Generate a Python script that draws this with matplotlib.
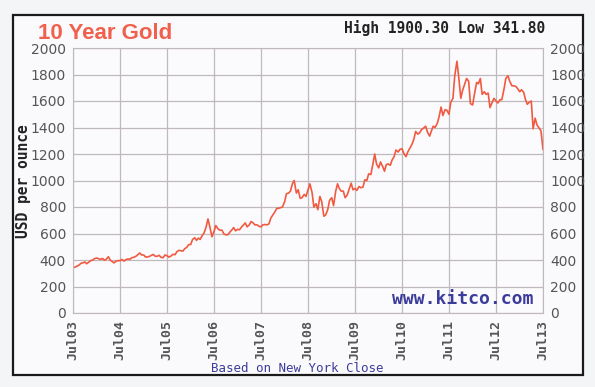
import pandas as pd
import matplotlib
matplotlib.use("Agg")
import matplotlib.pyplot as plt
import matplotlib.dates as mdates
from matplotlib.patches import Rectangle

start, end = "2003-07-01", "2013-07-01"
prices_2003 = [346, 345, 354, 360, 375, 378, 385, 372, 384, 395, 400, 410]
prices_2004 = [415, 410, 405, 412, 398, 405, 425, 400, 388, 378, 392, 395,
               395, 404, 392, 403, 408, 405, 418, 420, 428, 440, 453, 438]
prices_2005 = [438, 422, 423, 428, 435, 442, 428, 428, 435, 420, 418, 438,
               432, 422, 430, 443, 440, 462, 473, 470, 467, 485, 495, 515]
prices_2006 = [517, 555, 568, 548, 565, 555, 585, 605, 650, 710, 640, 575,
               615, 660, 635, 625, 625, 598, 590, 590, 610, 625, 645, 620]
prices_2007 = [632, 628, 650, 665, 680, 650, 665, 690, 680, 665, 665, 655,
               650, 665, 668, 665, 672, 715, 740, 760, 790, 790, 795, 800]
prices_2008 = [840, 900, 905, 920, 975, 1000, 905, 930, 865, 870, 895, 880,
               930, 975, 910, 800, 825, 780, 880, 840, 730, 740, 780, 850]
prices_2009 = [870, 810, 920, 975, 940, 920, 920, 870, 890, 930, 980, 930,
               940, 925, 955, 945, 950, 1005, 1000, 1050, 1045, 1115, 1200, 1125]
prices_2010 = [1095, 1140, 1105, 1070, 1120, 1125, 1115, 1155, 1180, 1230, 1215, 1235,
               1240, 1205, 1180, 1215, 1245, 1270, 1310, 1370, 1350, 1360, 1385, 1395]
prices_2011 = [1410, 1365, 1335, 1375, 1410, 1400, 1430, 1480, 1555, 1490, 1535, 1530,
               1500, 1590, 1620, 1790, 1900, 1780, 1620, 1680, 1730, 1770, 1750, 1580]
prices_2012 = [1570, 1650, 1740, 1730, 1770, 1650, 1670, 1650, 1660, 1550, 1590, 1620,
               1600, 1585, 1610, 1610, 1690, 1770, 1790, 1750, 1715, 1715, 1710, 1695]
prices_2013 = [1670, 1685, 1665, 1610, 1575, 1590, 1600, 1390, 1470, 1420, 1395, 1375, 1235]

prices = (prices_2003 + prices_2004 + prices_2005 + prices_2006 + prices_2007 + prices_2008
          + prices_2009 + prices_2010 + prices_2011 + prices_2012 + prices_2013)
dates = pd.date_range(start, end, freq="SMS")

y_ticks = list(range(0, 2001, 200))
x_ticks = pd.date_range(start, end, freq="12MS")

GRID = "#bfb8bc"
LINE = "#f25a40"
NAVY = "#3c3c9c"
GREY = "#555555"

fig = plt.figure(figsize=(5.95, 3.87), dpi=100, facecolor="#f4f5f7")
fig.patches.append(Rectangle((13 / 595, 1 - 375 / 387), 570 / 595, 360 / 387,
                             transform=fig.transFigure, facecolor="#fafafc",
                             edgecolor="#1a1a1a", linewidth=1.6, zorder=-5))

ax = fig.add_axes([73 / 595, 1 - 313 / 387, 470 / 595, 265 / 387])
ax.set_facecolor("#fbfbfd")
ax.plot(dates, prices, color=LINE, linewidth=1.2)

ax.set_xlim(pd.Timestamp(start), pd.Timestamp(end))
ax.set_ylim(0, 2000)
ax.set_yticks(y_ticks)
ax.set_xticks(x_ticks)
ax.xaxis.set_major_formatter(mdates.DateFormatter("%b%y"))
ax.grid(True, color=GRID, linewidth=0.9)
for s in ax.spines.values():
    s.set_color(GRID)

ax.tick_params(axis="y", length=0, pad=5, labelsize=10, labelcolor=GREY,
               right=True, labelright=True)
ax.tick_params(axis="x", length=0, pad=5, labelcolor=GREY)
for lab in ax.get_xticklabels():
    lab.set_rotation(90)
    lab.set_family("DejaVu Sans Mono")
    lab.set_fontsize(9.5)
    lab.set_weight("bold")
for lab in ax.get_yticklabels():
    lab.set_family("DejaVu Sans")

fig.text(38 / 595, 1 - 39 / 387, "10 Year Gold", family="Liberation Sans",
         weight="bold", fontsize=16, color="#f0604c", va="baseline")
fig.text(545 / 595, 1 - 33 / 387, "High 1900.30 Low 341.80", family="DejaVu Sans Mono",
         weight="bold", fontsize=10.5, color="#222222", ha="right", va="baseline")
fig.text(24 / 595, 1 - 181 / 387, "USD per ounce", family="DejaVu Sans Mono",
         weight="bold", fontsize=10.5, color="#222222", rotation=90,
         ha="center", va="center")
ax.text(0.98, 0.02, "www.kitco.com", transform=ax.transAxes, family="DejaVu Sans Mono",
        weight="bold", fontsize=13, color=NAVY, ha="right", va="bottom")
fig.text(297 / 595, 1 - 368 / 387, "Based on New York Close", family="DejaVu Sans Mono",
         fontsize=9, color=NAVY, ha="center", va="center")

fig.savefig("out.png", dpi=100, facecolor=fig.get_facecolor())
